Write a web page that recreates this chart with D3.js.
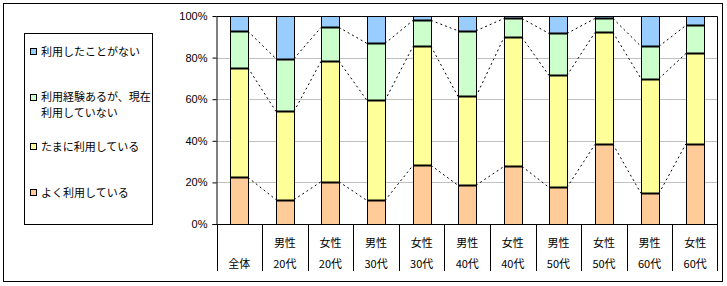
<!DOCTYPE html>
<html>
<head>
<meta charset="utf-8">
<script src="https://cdn.jsdelivr.net/npm/d3@7"></script>
<style>
  body { margin: 0; background: #fff; }
  svg text { font-family: "MS PGothic", "Noto Sans CJK JP", sans-serif; font-size: 11px; fill: #000; }
</style>
</head>
<body>
<svg id="chart" width="727" height="286"></svg>
<script>
// categories (two-row labels)
const catTop = ["", "男性", "女性", "男性", "女性", "男性", "女性", "男性", "女性", "男性", "女性"];
const catBottom = ["全体", "20代", "20代", "30代", "30代", "40代", "40代", "50代", "50代", "60代", "60代"];

// series values (%)
const yoku = [22.4, 11.7, 20.3, 11.3, 28.2, 18.6, 27.7, 17.6, 38.3, 14.7, 38.6];
const tamani = [52.7, 42.4, 57.9, 48.1, 57.2, 42.7, 62.0, 53.8, 53.8, 55.2, 43.4];
const keiken = [17.5, 25.4, 16.3, 27.4, 12.5, 31.6, 9.1, 20.2, 6.7, 15.5, 13.5];
const nashi = [7.4, 20.5, 5.5, 13.2, 2.1, 7.1, 1.2, 8.4, 1.2, 14.6, 4.5];

const legendLabels = [["利用したことがない"], ["利用経験あるが、現在", "利用していない"], ["たまに利用している"], ["よく利用している"]];
const colors = ["#ffcc99", "#ffff99", "#ccffcc", "#99ccff"];
const yTicks = [0, 20, 40, 60, 80, 100];

const svg = d3.select("#chart");

// outer frame
svg.append("rect")
  .attr("x", 3.5).attr("y", 3.5)
  .attr("width", 719).attr("height", 278)
  .attr("fill", "#fff").attr("stroke", "#000");

// legend
const legend = svg.append("g");
legend.append("rect")
  .attr("x", 24.5).attr("y", 33.5)
  .attr("width", 128).attr("height", 191)
  .attr("fill", "#fff").attr("stroke", "#000");
const legendY = [52, 98, 147, 193];
const legendColors = colors.slice().reverse();
legendLabels.forEach((lines, i) => {
  legend.append("rect")
    .attr("x", 30.5).attr("y", legendY[i] - 3.5)
    .attr("width", 6).attr("height", 6)
    .attr("fill", legendColors[i]).attr("stroke", "#000");
  const t = legend.append("text")
    .attr("x", 41).attr("y", legendY[i] - (lines.length - 1) * 0.5)
    .attr("dy", "0.36em");
  lines.forEach((s, j) => {
    t.append("tspan")
      .attr("x", 41)
      .attr("dy", j === 0 ? null : 16)
      .text(s);
  });
});

// plot
const pLeft = 216.5, pRight = 718, pTop = 16, pBottom = 224;

const x = d3.scaleBand()
  .domain(d3.range(catBottom.length))
  .range([pLeft, pRight])
  .padding(0);
const barW = 18;

const y = d3.scaleLinear().domain([0, 100]).range([pBottom, pTop]);

const rows = catBottom.map((c, i) => ({ i, yoku: yoku[i], tamani: tamani[i], keiken: keiken[i], nashi: nashi[i] }));
const stack = d3.stack().keys(["yoku", "tamani", "keiken", "nashi"]);
const layers = stack(rows);

// gridlines
svg.append("g")
  .selectAll("line")
  .data(yTicks.filter(d => d > 0 && d < 100))
  .join("line")
  .attr("x1", pLeft).attr("x2", pRight)
  .attr("y1", d => Math.round(y(d)) + 0.5).attr("y2", d => Math.round(y(d)) + 0.5)
  .attr("stroke", "#c0c0c0");

// series lines (dashed connectors)
const bx = i => Math.round(x(i) + (x.bandwidth() - barW) / 2);
const conn = svg.append("g");
layers.slice(0, 3).forEach(layer => {
  for (let i = 0; i < layer.length - 1; i++) {
    conn.append("line")
      .attr("x1", bx(i) + barW).attr("y1", y(layer[i][1]))
      .attr("x2", bx(i + 1)).attr("y2", y(layer[i + 1][1]))
      .attr("stroke", "#000")
      .attr("stroke-dasharray", "2,3");
  }
});

// bars
const bars = svg.append("g");
layers.forEach((layer, k) => {
  bars.selectAll(null)
    .data(layer)
    .join("rect")
    .attr("x", (d, i) => bx(i) + 0.5)
    .attr("y", d => Math.round(y(d[1])) + 0.5)
    .attr("width", barW)
    .attr("height", d => Math.round(y(d[0])) - Math.round(y(d[1])))
    .attr("fill", colors[k])
    .attr("stroke", "#000");
});
// boundary lines
layers.slice(0, 3).forEach(layer => {
  bars.selectAll(null)
    .data(layer)
    .join("line")
    .attr("x1", (d, i) => bx(i)).attr("x2", (d, i) => bx(i) + barW + 1)
    .attr("y1", d => Math.round(y(d[1])) + 0.5).attr("y2", d => Math.round(y(d[1])) + 0.5)
    .attr("stroke", "#000").attr("stroke-width", 2);
});

// plot border (top/right)
svg.append("path")
  .attr("d", `M${pLeft},${pTop + 0.5}H${pRight - 0.5}V${271}`)
  .attr("fill", "none").attr("stroke", "#000");

// y axis
const yAxis = svg.append("g")
  .attr("transform", `translate(${pLeft},0)`)
  .call(d3.axisLeft(y).tickValues(yTicks).tickFormat(d => d + "%").tickSize(4).tickSizeOuter(0));
yAxis.select(".domain").attr("stroke", "#000");
yAxis.selectAll("text").attr("x", -9).style("font-family", "Arial, 'Liberation Sans', sans-serif").style("font-size", "11px");

// x axis line + category dividers
svg.append("line")
  .attr("x1", pLeft - 4).attr("x2", pRight)
  .attr("y1", pBottom + 0.5).attr("y2", pBottom + 0.5)
  .attr("stroke", "#000");
svg.append("g")
  .selectAll("line")
  .data(d3.range(catBottom.length))
  .join("line")
  .attr("x1", d => Math.round(x(d)) + 0.5).attr("x2", d => Math.round(x(d)) + 0.5)
  .attr("y1", pBottom).attr("y2", 271)
  .attr("stroke", "#000");

const labels = svg.append("g").attr("text-anchor", "middle");
catTop.forEach((t, i) => {
  labels.append("text")
    .attr("x", x(i) + x.bandwidth() / 2).attr("y", 243)
    .attr("dy", "0.36em").text(t);
});
catBottom.forEach((t, i) => {
  labels.append("text")
    .attr("x", x(i) + x.bandwidth() / 2).attr("y", 264)
    .attr("dy", "0.36em").text(t);
});
</script>
</body>
</html>
